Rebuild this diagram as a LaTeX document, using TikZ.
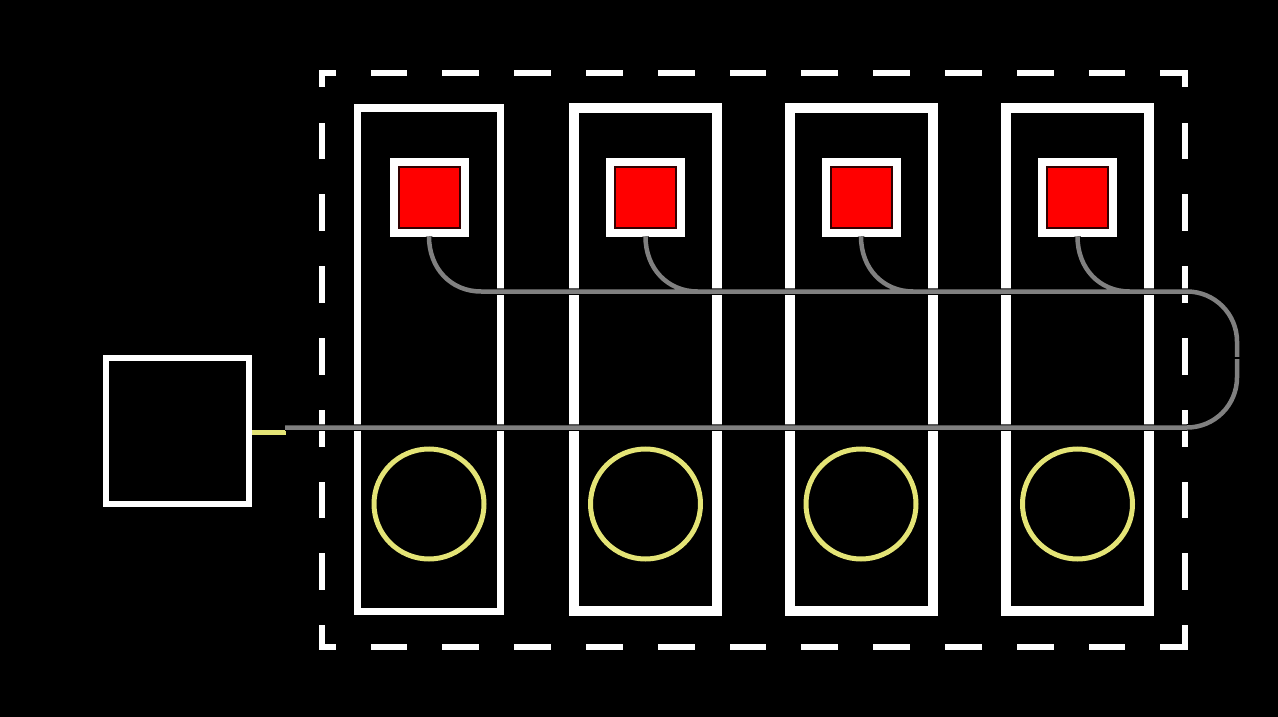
\documentclass[tikz,border=0pt]{standalone}
\usetikzlibrary{calc}
\definecolor{wiregray}{RGB}{128,128,128}
\definecolor{lampyellow}{RGB}{228,228,118}
\definecolor{alarmred}{RGB}{255,0,0}
\begin{document}
\begin{tikzpicture}[x=1pt,y=-1pt,
  bay/.style={draw=white,minimum width=143pt,minimum height=503pt,inner sep=0pt},
  alarmframe/.style={draw=white,fill=alarmred,line width=8pt,minimum size=71pt,inner sep=0pt},
  alarmcore/.style={draw=black!80!red,line width=2pt,minimum size=61pt,inner sep=0pt},
  lamp/.style={circle,draw=lampyellow,line width=5pt,minimum size=110pt,inner sep=0pt},
  ctrlbox/.style={draw=white,line width=6pt,minimum width=143pt,minimum height=146pt,inner sep=0pt},
  frame/.style={draw=white,line width=6pt,line cap=rect,dash pattern=on 30.8pt off 41pt},
  stub/.style={draw=lampyellow,line width=5pt},
  wire/.style={draw=wiregray,line width=4.5pt,preaction={draw=black,line width=6.5pt}}
]
% background and page size
\fill[black] (0,0) rectangle (1278,717);
\useasboundingbox (0,0) rectangle (1278,717);

% dashed enclosure, each side drawn on its own
\coordinate (fnw) at (322,73);
\coordinate (fne) at (1185,73);
\coordinate (fsw) at (322,647);
\coordinate (fse) at (1185,647);
\draw[frame,dash phase=20.3pt] (fnw) -- (fne);
\draw[frame,dash phase=20.3pt] (fsw) -- (fse);
\draw[frame,dash phase=19.3pt] (fnw) -- (fsw);
\draw[frame,dash phase=19.3pt] (fne) -- (fse);

% four bays, each with an alarm box and a lamp
\foreach \i/\cx/\lw in {1/429/7,2/645.5/10,3/861/10,4/1077.5/10} {
  \node[bay,line width=\lw pt] (bay\i) at (\cx,359.5) {};
  \node[alarmframe] (alarm\i) at (\cx,197) {};
  \node[alarmcore] (core\i) at (alarm\i.center) {};
  \node[lamp] (lamp\i) at (\cx,504) {};
  \coordinate (tap\i) at (\cx+52,291.5);
}

% controller and its feed
\node[ctrlbox] (ctrl) at (177.5,431) {};
\coordinate (stubend) at (286,432);
\draw[stub] (ctrl.east |- stubend) -- (stubend);

% bus coordinates
\coordinate (busB0) at (285,427.5);
\coordinate (busBend) at (1185,427.5);
\coordinate (busTend) at (1185,291.5);
\coordinate (loopmid) at (1237,358);

% wiring: lower bus, return loop, upper bus and drops from the alarms
\draw[wire]
  (busB0) -- (busBend) -- ++(2,0)
    .. controls +(27.6,0) and +(0,27.6) .. ($(loopmid)+(0,19.5)$) -- (loopmid)
  (busTend) -- ++(2,0)
    .. controls +(27.6,0) and +(0,-27.6) .. ($(loopmid)+(0,-16.5)$) -- (loopmid)
  (tap1) -- (busTend)
  \foreach \i in {1,...,4} { (alarm\i.south) .. controls +(0,32) and +(-30,0) .. (tap\i) };
\draw[black,line width=1.2pt] ($(loopmid)+(-5,0)$) -- ($(loopmid)+(5,0)$);
\end{tikzpicture}
\end{document}
